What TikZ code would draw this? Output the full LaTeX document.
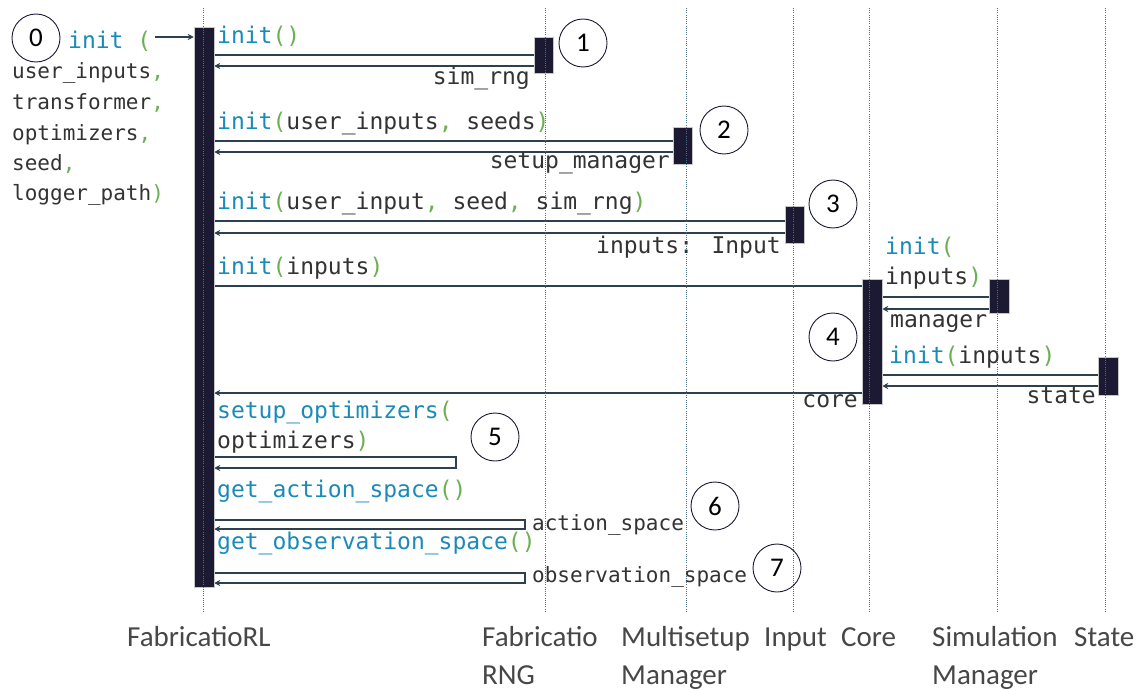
\documentclass[tikz,border=0pt]{standalone}
\usepackage{fontspec}
\setmainfont{Carlito}
\newfontfamily\codefont{DejaVu Sans Mono}
\usetikzlibrary{arrows.meta}
\definecolor{kwc}{HTML}{1A8AB8}
\definecolor{pnc}{HTML}{6AAF50}
\definecolor{txt}{HTML}{333333}
\definecolor{barc}{HTML}{1C1A33}
\definecolor{msgc}{HTML}{2B4152}
\definecolor{lifec}{HTML}{4F6F85}
\newcommand\kwd[1]{\textcolor{kwc}{#1}}
\newcommand\pnt[1]{\textcolor{pnc}{#1}}
\pgfdeclarelayer{back}
\pgfdeclarelayer{wires}
\pgfsetlayers{back,wires,main}
\begin{document}
\begin{tikzpicture}[x=1pt,y=-1pt,
  bar/.style={rectangle, draw=gray!45, line width=0.5pt, fill=barc, inner sep=0pt},
  lifeline/.style={lifec, line width=0.6pt, dash pattern=on 1pt off 1.2pt},
  msg/.style={msgc, line width=1.2pt},
  ret/.style={msg, -{Stealth[length=6pt,width=6pt]}},
  code/.style={font=\codefont\fontsize{23}{27}\selectfont, text=txt, inner sep=0pt},
  codesm/.style={font=\codefont\fontsize{21}{25}\selectfont, text=txt, inner sep=0pt},
  num/.style={circle, draw=barc, line width=0.9pt, minimum size=48pt, inner sep=0pt,
              font=\fontsize{27}{29}\selectfont},
  lbl/.style={font=\fontsize{29}{34}\selectfont, text=txt!90, inner sep=0pt, anchor=base west}]

\begin{pgfonlayer}{back}
\fill[white] (0,0) rectangle (1148,690);
\end{pgfonlayer}
\useasboundingbox (0,0) rectangle (1148,690);

% activation bars
\node[bar, minimum width=20pt, minimum height=560pt] (fab)   at (204,307) {};
\node[bar, minimum width=19pt, minimum height=36pt]  (rng)   at (543.5,55) {};
\node[bar, minimum width=19pt, minimum height=37pt]  (msm)   at (682.5,145.5) {};
\node[bar, minimum width=19pt, minimum height=37pt]  (inp)   at (794.5,224.5) {};
\node[bar, minimum width=20pt, minimum height=125pt] (core)  at (872,341.5) {};
\node[bar, minimum width=20pt, minimum height=34pt]  (sim)   at (999,296) {};
\node[bar, minimum width=20pt, minimum height=38pt]  (state) at (1108,376) {};

% lifelines
\foreach \lx in {203,545,686,793,869,997,1105}
  \draw[lifeline] (\lx,8) -- (\lx,612);

\begin{pgfonlayer}{wires}
% entry call
\coordinate (entry) at (155,37);
\draw[ret] (entry) -- (fab.west |- entry);

% 1: FabricatioRNG
\draw[msg] (fab.east |- 0,55) -- (rng.west |- 0,55);
\draw[ret] (rng.west |- 0,66) -- (fab.east |- 0,66);
% 2: Multisetup manager
\draw[msg] (fab.east |- 0,141) -- (msm.west |- 0,141);
\draw[ret] (msm.west |- 0,152) -- (fab.east |- 0,152);
% 3: Input
\draw[msg] (fab.east |- 0,221) -- (inp.west |- 0,221);
\draw[ret] (inp.west |- 0,233) -- (fab.east |- 0,233);
% 4: Core and its collaborators
\draw[msg] (fab.east |- 0,286) -- (core.west |- 0,286);
\draw[msg] (core.east |- 0,297) -- (sim.west |- 0,297);
\draw[ret] (sim.west |- 0,309) -- (core.east |- 0,309);
\draw[msg] (core.east |- 0,375) -- (state.west |- 0,375);
\draw[ret] (state.west |- 0,386) -- (core.east |- 0,386);
\draw[ret] (core.west |- 0,393) -- (fab.east |- 0,393);
% 5-7: self calls
\coordinate (s5) at (456,457);
\coordinate (s6) at (525,520);
\coordinate (s7) at (525,573);
\draw[ret] (fab.east |- s5) -- (s5) -- ++(0,11) -- (fab.east |- 0,468);
\draw[ret] (fab.east |- s6) -- (s6) -- ++(0,9) -- (fab.east |- 0,529);
\draw[ret] (fab.east |- s7) -- (s7) -- ++(0,10) -- (fab.east |- 0,583);
\end{pgfonlayer}

% constructor signature
\node[code, anchor=base west] (sig0) at (68,49) {\kwd{init} \pnt{(}};
\node[codesm, anchor=base west] (sig1) at (12,79) {user\_inputs\pnt{,}};
\node[codesm, anchor=base west] (sig2) at (12,110) {transformer\pnt{,}};
\node[codesm, anchor=base west] (sig3) at (12,140) {optimizers\pnt{,}};
\node[codesm, anchor=base west] (sig4) at (12,170) {seed\pnt{,}};
\node[codesm, anchor=base west] (sig5) at (12,200) {logger\_path\pnt{)}};

% call labels
\node[code, anchor=base west] (m1) at (217,44) {\kwd{init}\pnt{()}};
\node[code, anchor=base west] (m2) at (217,129) {\kwd{init}\pnt{(}user\_inputs\pnt{,} seeds\pnt{)}};
\node[code, anchor=base west] (m3) at (217,209) {\kwd{init}\pnt{(}user\_input\pnt{,} seed\pnt{,} sim\_rng\pnt{)}};
\node[code, anchor=base west] (m4) at (217,274) {\kwd{init}\pnt{(}inputs\pnt{)}};
\node[code, anchor=base west] (m4a) at (885,254) {\kwd{init}\pnt{(}};
\node[code, anchor=base west] (m4b) at (885,284) {inputs\pnt{)}};
\node[code, anchor=base west] (m4c) at (889,363) {\kwd{init}\pnt{(}inputs\pnt{)}};
\node[code, anchor=base west] (m5a) at (217,418) {\kwd{setup\_optimizers}\pnt{(}};
\node[code, anchor=base west] (m5b) at (217,448) {optimizers\pnt{)}};
\node[code, anchor=base west] (m6) at (217,497) {\kwd{get\_action\_space}\pnt{()}};
\node[code, anchor=base west] (m7) at (217,549) {\kwd{get\_observation\_space}\pnt{()}};

% return labels
\node[code, anchor=base east] (r1) at (530,85) {sim\_rng};
\node[code, anchor=base east] (r2) at (670,168) {setup\_manager};
\node[code, anchor=base east] (r3) at (781,253) {inputs: Input};
\node[code, anchor=base west] (r4a) at (890,327) {manager};
\node[code, anchor=base east] (r4b) at (1096,403) {state};
\node[code, anchor=base east] (r4) at (858,407) {core};
\node[codesm, anchor=base west] (r6) at (532,530) {action\_space};
\node[codesm, anchor=base west] (r7) at (532,582) {observation\_space};

% step numbers
\node[num] (n0) at (36,38) {0};
\node[num] (n1) at (583,43) {1};
\node[num] (n2) at (724,130) {2};
\node[num] (n3) at (833,204) {3};
\node[num] (n4) at (833,337) {4};
\node[num] (n5) at (495,437) {5};
\node[num] (n6) at (715,506) {6};
\node[num] (n7) at (777,568) {7};

% participants
\node[lbl] (pfab)  at (127,646) {FabricatioRL};
\node[lbl] (prng)  at (482,646) {Fabricatio};
\node[lbl] (prng2) at (482,684) {RNG};
\node[lbl] (pmsm)  at (621,646) {Multisetup};
\node[lbl] (pmsm2) at (621,684) {Manager};
\node[lbl] (pinp)  at (764,646) {Input};
\node[lbl] (pcore) at (841,646) {Core};
\node[lbl] (psim)  at (932,646) {Simulation};
\node[lbl] (psim2) at (932,684) {Manager};
\node[lbl] (pst)   at (1074,646) {State};
\end{tikzpicture}
\end{document}
